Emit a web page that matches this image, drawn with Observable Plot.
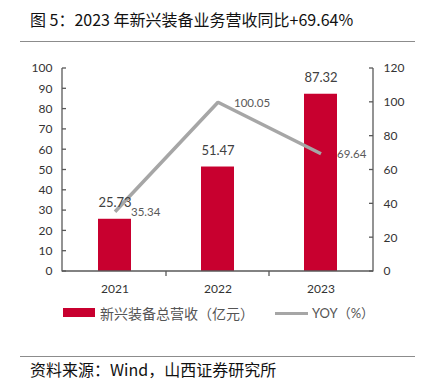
<!DOCTYPE html>
<html>
<head>
<meta charset="utf-8">
<script src="https://cdn.jsdelivr.net/npm/d3@7"></script>
<script src="https://cdn.jsdelivr.net/npm/@observablehq/plot@0.6"></script>
<style>
  html, body { margin: 0; padding: 0; background: #fff; }
  #wrap { position: relative; width: 425px; height: 385px; overflow: hidden; }
  #chart { position: absolute; left: 0; top: 0; }
  .abs { position: absolute; white-space: nowrap; }
  .title { left: 30px; top: 9px; font-family: "Noto Sans CJK SC", sans-serif; font-size: 16px; color: #111; line-height: 20px; }
  .rule { height: 0; border-top: 1.5px solid #8c8c8c; }
  .source { left: 30px; top: 359px; font-family: "Noto Sans CJK SC", sans-serif; font-size: 16px; color: #111; line-height: 20px; }
  .legend { top: 303px; font-family: "Noto Sans CJK SC", sans-serif; font-size: 14px; color: #555; line-height: 20px; }
</style>
</head>
<body>
<div id="wrap">
  <div id="chart"></div>
  <div class="abs title">图 5：2023 年新兴装备业务营收同比+69.64%</div>
  <div class="abs rule" style="left:20px; top:41px; width:395px;"></div>
  <div class="abs" style="left:63px; top:308px; width:32px; height:9px; background:#c8002f;"></div>
  <div class="abs legend" style="left:100px;">新兴装备总营收（亿元）</div>
  <div class="abs" style="left:275px; top:311.5px; width:33px; height:3px; background:#a6a6a6;"></div>
  <div class="abs legend" style="left:312px; font-family: Lato, 'Noto Sans CJK SC', sans-serif; font-size:13px;">YOY（%）</div>
  <div class="abs rule" style="left:20px; top:356px; width:395px;"></div>
  <div class="abs source">资料来源：Wind，山西证券研究所</div>
</div>
<script>
const years = ["2021", "2022", "2023"];
const revenue = [25.73, 51.47, 87.32];
const yoy = [35.34, 100.05, 69.64];
const leftTicks = [0, 10, 20, 30, 40, 50, 60, 70, 80, 90, 100];
const rightTicks = [0, 20, 40, 60, 80, 100, 120];
const leftMax = 100;
const rightMax = 120;

const rows = years.map((year, i) => ({year, revenue: revenue[i], yoy: yoy[i]}));
const toLeft = v => v * leftMax / rightMax;
const axisColor = "#595959";

function frameAndTicks(index, scales, values, dims) {
  const {x, y} = scales;
  const g = d3.create("svg:g").attr("stroke", axisColor).attr("stroke-width", 1.3).attr("fill", "none");
  const xl = dims.marginLeft, xr = dims.width - dims.marginRight;
  const y0 = y(0), yTop = y(leftMax);
  g.append("line").attr("x1", xl).attr("x2", xl).attr("y1", y0 + 0.5).attr("y2", yTop);
  g.append("line").attr("x1", xr).attr("x2", xr).attr("y1", y0 + 0.5).attr("y2", yTop);
  g.append("line").attr("x1", xl).attr("x2", xr).attr("y1", y0).attr("y2", y0);
  for (const t of leftTicks) g.append("line").attr("x1", xl).attr("x2", xl + 4).attr("y1", y(t)).attr("y2", y(t));
  for (const t of rightTicks) g.append("line").attr("x1", xr - 4).attr("x2", xr).attr("y1", y(toLeft(t))).attr("y2", y(toLeft(t)));
  const gap = (x.step() - x.bandwidth()) / 2;
  for (const yr of years.slice(1)) {
    const bx = x(yr) - gap;
    g.append("line").attr("x1", bx).attr("x2", bx).attr("y1", y0).attr("y2", y0 + 5);
  }
  return g.node();
}

const chart = Plot.plot({
  width: 425,
  height: 300,
  marginTop: 68,
  marginBottom: 29,
  marginLeft: 62,
  marginRight: 52,
  style: {fontFamily: "Lato, sans-serif", fontSize: "12px", color: "#333", background: "transparent"},
  x: {domain: years, paddingInner: 0.68, paddingOuter: 0.34, label: null},
  y: {domain: [0, leftMax], label: null},
  marks: [
    Plot.barY(rows, {x: "year", y: "revenue", fill: "#c8002f"}),
    Plot.line(rows, {x: "year", y: d => toLeft(d.yoy), stroke: "#a6a6a6", strokeWidth: 3.5, strokeLinecap: "butt", strokeLinejoin: "miter"}),
    Plot.text(rows, {x: "year", y: "revenue", text: d => d.revenue.toFixed(2), dy: -16, fontSize: 13, fill: "#404040"}),
    Plot.text(rows, {x: "year", y: d => toLeft(d.yoy), text: d => d.yoy.toFixed(2), dx: 16, dy: 1, textAnchor: "start", fontSize: 11.5, fill: "#595959"}),
    frameAndTicks,
    Plot.axisY(leftTicks, {anchor: "left", tickSize: 0, tickPadding: 10, label: null, fontSize: 12, fill: "#333"}),
    Plot.axisY(rightTicks.map(toLeft), {anchor: "right", tickSize: 0, tickPadding: 10, label: null, fontSize: 12, fill: "#333", tickFormat: d => String(Math.round(d * rightMax / leftMax))}),
    Plot.axisX({tickSize: 0, tickPadding: 13, label: null, fontSize: 12, fill: "#333"})
  ]
});
document.getElementById("chart").appendChild(chart);
</script>
</body>
</html>
